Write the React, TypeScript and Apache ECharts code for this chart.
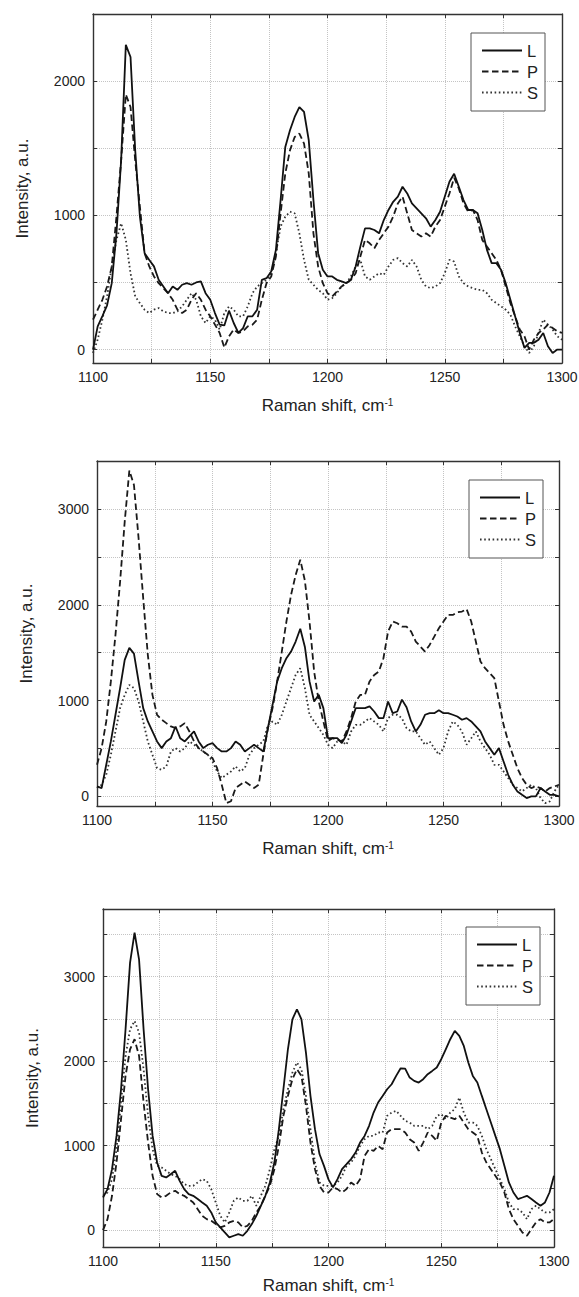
import React, { useEffect, useRef } from 'react';
import * as echarts from 'echarts';

// Raman shift grid (cm-1), shared by all three panels
const ramanShift = [
  1100, 1102, 1104, 1106, 1108, 1110, 1112, 1114, 1116, 1118,
  1120, 1122, 1124, 1126, 1128, 1130, 1132, 1134, 1136, 1138,
  1140, 1142, 1144, 1146, 1148, 1150, 1152, 1154, 1156, 1158,
  1160, 1162, 1164, 1166, 1168, 1170, 1172, 1174, 1176, 1178,
  1180, 1182, 1184, 1186, 1188, 1190, 1192, 1194, 1196, 1198,
  1200, 1202, 1204, 1206, 1208, 1210, 1212, 1214, 1216, 1218,
  1220, 1222, 1224, 1226, 1228, 1230, 1232, 1234, 1236, 1238,
  1240, 1242, 1244, 1246, 1248, 1250, 1252, 1254, 1256, 1258,
  1260, 1262, 1264, 1266, 1268, 1270, 1272, 1274, 1276, 1278,
  1280, 1282, 1284, 1286, 1288, 1290, 1292, 1294, 1296, 1298,
  1300,
];

// Panel 1
const l1 = [
  0, 173, 250, 330, 495, 866, 1410, 2270, 2180, 1485,
  990, 718, 668, 620, 520, 470, 420, 470, 445, 483,
  495, 483, 500, 508, 420, 371, 272, 186, 180, 290,
  198, 124, 160, 248, 248, 297, 520, 532, 582, 743,
  1114, 1510, 1634, 1733, 1807, 1770, 1560, 1114, 718, 594,
  545, 545, 520, 508, 495, 520, 619, 767, 903, 903,
  891, 866, 965, 1040, 1101, 1139, 1213, 1163, 1089, 1052,
  1015, 978, 916, 965, 1027, 1139, 1250, 1310, 1213, 1114,
  1040, 1040, 1015, 891, 743, 644, 644, 594, 495, 371,
  248, 124, 12, 50, 50, 74, 124, 25, -25, 0,
  0,
];
const p1 = [
  223, 297, 371, 470, 619, 990, 1410, 1900, 1807, 1410,
  1064, 718, 619, 545, 495, 458, 420, 371, 297, 272,
  297, 371, 420, 371, 297, 248, 186, 124, 15, 99,
  149, 124, 136, 173, 186, 223, 371, 495, 545, 693,
  1015, 1312, 1485, 1584, 1609, 1535, 1312, 866, 619, 495,
  420, 396, 433, 470, 495, 520, 569, 693, 817, 792,
  755, 817, 866, 916, 990, 1089, 1139, 1015, 891, 866,
  842, 866, 842, 916, 965, 1064, 1163, 1280, 1200, 1089,
  1027, 1040, 965, 817, 767, 718, 668, 594, 470, 346,
  248, 149, 99, 0, 74, 124, 149, 186, 161, 136,
  124,
];
const s1 = [
  -25, 74, 223, 396, 619, 817, 941, 817, 569, 396,
  346, 297, 272, 297, 309, 285, 272, 272, 285, 322,
  371, 420, 371, 248, 198, 248, 223, 149, 272, 322,
  297, 248, 248, 322, 420, 470, 495, 520, 569, 718,
  916, 990, 1027, 1015, 866, 668, 520, 483, 445, 420,
  371, 383, 420, 470, 495, 545, 619, 668, 545, 520,
  545, 569, 557, 619, 668, 681, 644, 619, 668, 619,
  520, 470, 458, 470, 495, 569, 668, 656, 545, 495,
  470, 458, 445, 445, 420, 371, 346, 322, 297, 260,
  173, 99, 25, -25, 25, 124, 223, 186, 149, 99,
  74,
];

// Panel 2
const l2 = [
  104, 87, 330, 574, 852, 1130, 1425, 1550, 1490, 1200,
  921, 782, 678, 574, 504, 574, 608, 730, 608, 574,
  626, 678, 574, 504, 539, 556, 504, 469, 469, 504,
  574, 539, 469, 504, 539, 504, 469, 713, 956, 1200,
  1338, 1442, 1512, 1616, 1750, 1560, 1200, 990, 1060, 921,
  608, 608, 608, 556, 643, 782, 921, 921, 921, 939,
  886, 817, 817, 990, 869, 886, 1010, 930, 782, 678,
  747, 852, 869, 869, 900, 869, 869, 852, 834, 800,
  817, 782, 730, 678, 574, 504, 434, 504, 365, 226,
  122, 52, 17, -17, 0, 0, 87, 52, 17, 17,
  0,
];
const p2 = [
  330, 504, 782, 1200, 1686, 2242, 2868, 3400, 3250, 2694,
  2068, 1477, 1060, 851, 800, 765, 730, 713, 730, 765,
  678, 574, 504, 469, 434, 400, 295, 122, -70, -50,
  87, 122, 156, 122, 87, 122, 434, 713, 921, 1200,
  1512, 1825, 2103, 2311, 2470, 2250, 1825, 1303, 990, 782,
  580, 608, 591, 574, 678, 817, 990, 1060, 1060, 1200,
  1268, 1303, 1442, 1720, 1825, 1807, 1772, 1772, 1720, 1616,
  1564, 1512, 1581, 1668, 1755, 1825, 1894, 1894, 1922, 1929,
  1955, 1825, 1616, 1408, 1338, 1286, 1234, 990, 747, 574,
  434, 295, 191, 122, 87, 104, 87, 52, 87, 104,
  122,
];
const s2 = [
  87, 122, 226, 434, 678, 921, 1060, 1164, 1130, 990,
  782, 574, 434, 295, 278, 313, 469, 504, 469, 504,
  574, 539, 504, 469, 434, 365, 261, 191, 226, 261,
  313, 261, 295, 434, 504, 539, 574, 747, 782, 747,
  852, 990, 1130, 1268, 1338, 1130, 852, 782, 713, 643,
  539, 504, 574, 574, 539, 678, 747, 747, 782, 817,
  782, 747, 678, 817, 852, 852, 817, 713, 678, 678,
  608, 539, 574, 504, 434, 504, 678, 782, 747, 678,
  539, 608, 678, 574, 504, 434, 330, 330, 261, 191,
  122, 87, 52, 87, 122, 87, -17, -70, -52, 52,
  122,
];

// Panel 3
const l3 = [
  386, 485, 721, 1115, 1667, 2377, 3165, 3520, 3200, 2377,
  1667, 1115, 800, 642, 623, 662, 702, 583, 485, 426,
  406, 367, 327, 288, 209, 91, 32, -28, -87, -67,
  -47, -67, -8, 71, 169, 288, 406, 564, 800, 1194,
  1667, 2140, 2495, 2613, 2495, 2101, 1588, 1194, 900, 760,
  600, 505, 603, 721, 780, 840, 918, 1036, 1115, 1234,
  1391, 1510, 1588, 1667, 1726, 1825, 1915, 1910, 1805, 1766,
  1746, 1786, 1845, 1884, 1924, 2022, 2140, 2259, 2357, 2298,
  2180, 1983, 1825, 1746, 1588, 1431, 1273, 1115, 958, 761,
  564, 445, 367, 386, 406, 367, 327, 288, 327, 445,
  642,
];
const p3 = [
  0, 130, 406, 800, 1313, 1825, 2140, 2259, 2061, 1510,
  1036, 642, 426, 386, 406, 445, 465, 426, 406, 367,
  327, 248, 169, 130, 110, 71, 32, 51, 91, 110,
  91, 32, 51, 110, 209, 288, 406, 524, 721, 997,
  1352, 1588, 1786, 1904, 1825, 1470, 1036, 721, 524, 445,
  445, 505, 485, 445, 485, 564, 524, 603, 879, 958,
  938, 997, 958, 1155, 1194, 1194, 1194, 1155, 1076, 1036,
  938, 1036, 1155, 1115, 1056, 1273, 1352, 1332, 1313, 1352,
  1273, 1194, 1155, 1115, 918, 800, 721, 642, 564, 445,
  248, 130, 51, -28, -67, 12, 91, 130, 91, 91,
  130,
];
const s3 = [
  406, 445, 603, 958, 1510, 2061, 2377, 2475, 2337, 1904,
  1352, 958, 761, 741, 702, 662, 642, 603, 544, 524,
  524, 564, 603, 583, 485, 327, 169, 91, 209, 347,
  386, 347, 347, 406, 288, 406, 524, 721, 958, 1115,
  1431, 1667, 1864, 1983, 1904, 1588, 1194, 800, 564, 524,
  524, 524, 564, 642, 761, 800, 879, 997, 1076, 1115,
  1115, 1155, 1155, 1352, 1391, 1411, 1352, 1293, 1273, 1234,
  1234, 1234, 1194, 1234, 1352, 1372, 1313, 1391, 1431, 1569,
  1391, 1273, 1273, 1234, 1115, 958, 840, 721, 603, 485,
  327, 248, 248, 209, 130, 248, 288, 248, 209, 209,
  248,
];

const seriesNames = ['L', 'P', 'S'];
const xLabelValues = [1100, 1150, 1200, 1250, 1300];
const yTicks1 = [0, 500, 1000, 1500, 2000, 2500];
const yLabels1 = [0, 1000, 2000];
const yTicks23 = [0, 500, 1000, 1500, 2000, 2500, 3000, 3500];
const yLabels23 = [0, 1000, 2000, 3000];

const FONT = '"Liberation Sans", Arial, Helvetica, sans-serif';
const INK = '#222';
const FRAME = '#333';

const panels = [
  { rect: { left: 93, top: 14, width: 469, height: 349 }, yMin: -100, yMax: 2500, yTicks: yTicks1, yLabels: yLabels1, legend: { left: 471, top: 33 }, xNameGap: 34, values: [l1, p1, s1] },
  { rect: { left: 97, top: 461, width: 462, height: 345 }, yMin: -100, yMax: 3500, yTicks: yTicks23, yLabels: yLabels23, legend: { left: 469, top: 480 }, xNameGap: 34, values: [l2, p2, s2] },
  { rect: { left: 103, top: 909, width: 451, height: 338 }, yMin: -200, yMax: 3800, yTicks: yTicks23, yLabels: yLabels23, legend: { left: 466, top: 927 }, xNameGap: 30, values: [l3, p3, s3] },
];

const lineStyles = [
  { color: '#111', width: 1.8, type: 'solid' as const },
  { color: '#1a1a1a', width: 1.8, type: [6.5, 3.5] },
  { color: '#333', width: 1.8, type: [1.6, 2.6] },
];

const plain = (v: number) => String(v);

function buildOption() {
  const grid: any[] = [];
  const xAxis: any[] = [];
  const yAxis: any[] = [];
  const series: any[] = [];
  const legend: any[] = [];

  panels.forEach((pn, i) => {
    grid.push({ ...pn.rect, containLabel: false, outerBoundsMode: 'none', show: false });

    const tickStyle = { show: true, inside: true, length: 4, lineStyle: { color: FRAME, width: 1 } };
    const frameLine = { show: true, onZero: false, lineStyle: { color: FRAME, width: 1.4 } };
    const gridLine = { show: true, lineStyle: { color: '#c4c4c4', width: 1, type: 'dotted' } };

    xAxis.push({
      type: 'value', gridIndex: i, position: 'bottom', min: 1100, max: 1300, interval: 25,
      axisLine: frameLine, axisTick: tickStyle,
      axisLabel: { customValues: xLabelValues, formatter: plain, margin: 7, fontSize: 14, color: INK, fontFamily: FONT },
      splitLine: gridLine,
      name: '{a|Raman shift, cm}{b|-1}', nameLocation: 'middle', nameGap: pn.xNameGap,
      nameTextStyle: {
        rich: {
          a: { fontSize: 17, lineHeight: 17, color: INK, fontFamily: FONT, verticalAlign: 'bottom' },
          b: { fontSize: 10, lineHeight: 10, color: INK, fontFamily: FONT, verticalAlign: 'top' },
        },
      },
    });
    xAxis.push({
      type: 'value', gridIndex: i, position: 'top', min: 1100, max: 1300, interval: 25,
      axisLine: frameLine, axisTick: tickStyle, axisLabel: { show: false }, splitLine: { show: false },
    });
    yAxis.push({
      type: 'value', gridIndex: i, position: 'left', min: pn.yMin, max: pn.yMax,
      axisLine: frameLine, axisTick: { ...tickStyle, customValues: pn.yTicks },
      axisLabel: { customValues: pn.yLabels, formatter: plain, margin: 8, fontSize: 14, color: INK, fontFamily: FONT },
      splitLine: gridLine,
      name: 'Intensity, a.u.', nameLocation: 'middle', nameGap: 62,
      nameTextStyle: { fontSize: 17, color: INK, fontFamily: FONT },
    });
    yAxis.push({
      type: 'value', gridIndex: i, position: 'right', min: pn.yMin, max: pn.yMax,
      axisLine: frameLine, axisTick: { ...tickStyle, customValues: pn.yTicks },
      axisLabel: { show: false }, splitLine: { show: false },
    });

    seriesNames.forEach((nm, k) => {
      const ys = pn.values[k];
      series.push({
        type: 'line', name: nm, xAxisIndex: i * 2, yAxisIndex: i * 2,
        data: ramanShift.map((x, j) => [x, ys[j]]),
        showSymbol: false, symbol: 'none', silent: true,
        lineStyle: lineStyles[k], itemStyle: { color: lineStyles[k].color },
        z: 3 - k,
      });
    });

    legend.push({
      orient: 'vertical', left: pn.legend.left, top: pn.legend.top,
      data: seriesNames, selectedMode: false,
      itemWidth: 40, itemHeight: 14, itemGap: 4,
      padding: [9, 7, 10, 10],
      borderColor: '#555', borderWidth: 1, backgroundColor: '#fff',
      itemStyle: { opacity: 0 },
      textStyle: { fontSize: 16.5, lineHeight: 17, color: INK, fontFamily: FONT },
    });
  });

  return {
    animation: false,
    backgroundColor: '#fff',
    textStyle: { fontFamily: FONT },
    grid, xAxis, yAxis, series, legend,
  };
}

export default function App() {
  const ref = useRef<HTMLDivElement>(null);
  useEffect(() => {
    if (!ref.current) return;
    const chart = echarts.init(ref.current, null, { renderer: 'svg' });
    chart.setOption(buildOption() as any);
    return () => chart.dispose();
  }, []);
  return (
    <div
      ref={ref}
      style={{ position: 'absolute', left: 0, top: 0, width: 579, height: 1297, background: '#fff' }}
    />
  );
}
